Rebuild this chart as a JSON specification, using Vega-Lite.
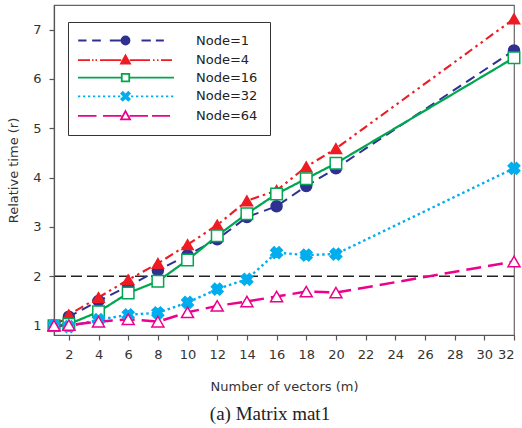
{
  "$schema": "https://vega.github.io/schema/vega-lite/v6.json",
  "width": 460,
  "height": 330,
  "autosize": {"type": "none"},
  "padding": {"left": 54, "top": 5, "right": 8, "bottom": 93},
  "background": "white",
  "config": {
    "font": "DejaVu Sans",
    "view": {"stroke": "#666", "strokeWidth": 1.2},
    "axis": {
      "grid": false,
      "domainColor": "#555",
      "domainWidth": 1.2,
      "tickColor": "#555",
      "tickWidth": 1.2,
      "tickSize": 5,
      "labelFont": "DejaVu Sans",
      "labelFontSize": 13,
      "labelColor": "#333",
      "labelPadding": 8,
      "labelOverlap": false,
      "titleFont": "DejaVu Sans",
      "titleFontSize": 13,
      "titleFontWeight": "normal",
      "titleColor": "#333"
    },
    "axisX": {"labelOverlap": false},
    "axisQuantitative": {"labelOverlap": false},
    "legend": {
      "orient": "none",
      "legendX": 14,
      "legendY": 17,
      "symbolSize": 100,
      "symbolStrokeWidth": 1.8,
      "symbolOpacity": 1,
      "symbolOffset": 39,
      "labelFont": "DejaVu Sans",
      "labelFontSize": 13,
      "labelColor": "#222",
      "labelOffset": 64,
      "rowPadding": 2.6,
      "padding": 12,
      "strokeColor": "#333",
      "fillColor": "white"
    }
  },
  "title": {
    "text": "(a) Matrix mat1",
    "orient": "bottom",
    "font": "Liberation Serif",
    "fontSize": 19,
    "fontWeight": "normal",
    "color": "#222",
    "offset": 12,
    "dx": -14
  },
  "data": {
    "values": [
      {"m": 1, "r": 1.0, "series": "Node=1"},
      {"m": 2, "r": 1.18, "series": "Node=1"},
      {"m": 4, "r": 1.5, "series": "Node=1"},
      {"m": 6, "r": 1.8, "series": "Node=1"},
      {"m": 8, "r": 2.12, "series": "Node=1"},
      {"m": 10, "r": 2.43, "series": "Node=1"},
      {"m": 12, "r": 2.75, "series": "Node=1"},
      {"m": 14, "r": 3.2, "series": "Node=1"},
      {"m": 16, "r": 3.42, "series": "Node=1"},
      {"m": 18, "r": 3.83, "series": "Node=1"},
      {"m": 20, "r": 4.19, "series": "Node=1"},
      {"m": 32, "r": 6.58, "series": "Node=1"},
      {"m": 1, "r": 1.0, "series": "Node=4"},
      {"m": 2, "r": 1.22, "series": "Node=4"},
      {"m": 4, "r": 1.57, "series": "Node=4"},
      {"m": 6, "r": 1.93, "series": "Node=4"},
      {"m": 8, "r": 2.26, "series": "Node=4"},
      {"m": 10, "r": 2.64, "series": "Node=4"},
      {"m": 12, "r": 3.04, "series": "Node=4"},
      {"m": 14, "r": 3.53, "series": "Node=4"},
      {"m": 16, "r": 3.74, "series": "Node=4"},
      {"m": 18, "r": 4.22, "series": "Node=4"},
      {"m": 20, "r": 4.59, "series": "Node=4"},
      {"m": 32, "r": 7.22, "series": "Node=4"},
      {"m": 1, "r": 1.0, "series": "Node=16"},
      {"m": 2, "r": 1.03, "series": "Node=16"},
      {"m": 4, "r": 1.28, "series": "Node=16"},
      {"m": 6, "r": 1.66, "series": "Node=16"},
      {"m": 8, "r": 1.9, "series": "Node=16"},
      {"m": 10, "r": 2.33, "series": "Node=16"},
      {"m": 12, "r": 2.82, "series": "Node=16"},
      {"m": 14, "r": 3.27, "series": "Node=16"},
      {"m": 16, "r": 3.67, "series": "Node=16"},
      {"m": 18, "r": 3.98, "series": "Node=16"},
      {"m": 20, "r": 4.29, "series": "Node=16"},
      {"m": 32, "r": 6.43, "series": "Node=16"},
      {"m": 1, "r": 1.0, "series": "Node=32"},
      {"m": 2, "r": 0.98, "series": "Node=32"},
      {"m": 4, "r": 1.12, "series": "Node=32"},
      {"m": 6, "r": 1.22, "series": "Node=32"},
      {"m": 8, "r": 1.26, "series": "Node=32"},
      {"m": 10, "r": 1.47, "series": "Node=32"},
      {"m": 12, "r": 1.74, "series": "Node=32"},
      {"m": 14, "r": 1.94, "series": "Node=32"},
      {"m": 16, "r": 2.48, "series": "Node=32"},
      {"m": 18, "r": 2.43, "series": "Node=32"},
      {"m": 20, "r": 2.45, "series": "Node=32"},
      {"m": 32, "r": 4.19, "series": "Node=32"},
      {"m": 1, "r": 1.0, "series": "Node=64"},
      {"m": 2, "r": 1.01, "series": "Node=64"},
      {"m": 4, "r": 1.08, "series": "Node=64"},
      {"m": 6, "r": 1.13, "series": "Node=64"},
      {"m": 8, "r": 1.08, "series": "Node=64"},
      {"m": 10, "r": 1.27, "series": "Node=64"},
      {"m": 12, "r": 1.4, "series": "Node=64"},
      {"m": 14, "r": 1.49, "series": "Node=64"},
      {"m": 16, "r": 1.59, "series": "Node=64"},
      {"m": 18, "r": 1.69, "series": "Node=64"},
      {"m": 20, "r": 1.67, "series": "Node=64"},
      {"m": 32, "r": 2.3, "series": "Node=64"}
    ]
  },
  "layer": [
    {
      "data": {"values": [{"ref": 2}]},
      "mark": {"type": "rule", "color": "#222", "strokeWidth": 1.5, "strokeDash": [11, 5]},
      "encoding": {
        "y": {"field": "ref", "type": "quantitative"}
      }
    },
    {
      "mark": {"type": "line", "strokeCap": "butt"},
      "encoding": {
        "x": {
          "field": "m",
          "type": "quantitative",
          "scale": {"domain": [1, 32], "nice": false, "zero": false},
          "axis": {"values": [2, 4, 6, 8, 10, 12, 14, 16, 18, 20, 22, 24, 26, 28, 30, 32], "title": "Number of vectors (m)", "titlePadding": 19, "labelOverlap": false, "labelSeparation": 0}
        },
        "y": {
          "field": "r",
          "type": "quantitative",
          "scale": {"domain": [0.81, 7.5], "nice": false, "zero": false},
          "axis": {"values": [1, 2, 3, 4, 5, 6, 7], "title": "Relative time (r)", "titlePadding": 12, "labelOverlap": false}
        },
        "color": {
          "field": "series",
          "type": "nominal",
          "scale": {"domain": ["Node=1", "Node=4", "Node=16", "Node=32", "Node=64"], "range": ["#2e3192", "#ed1c24", "#00a651", "#00aeef", "#ec008c"]},
          "legend": null
        },
        "strokeDash": {
          "field": "series",
          "type": "nominal",
          "scale": {"domain": ["Node=1", "Node=4", "Node=16", "Node=32", "Node=64"], "range": [[10, 6], [9, 4, 2.5, 4, 2.5, 4], [1, 0], [2.5, 3], [15, 7]]},
          "legend": null
        },
        "strokeWidth": {
          "field": "series",
          "type": "nominal",
          "scale": {"domain": ["Node=1", "Node=4", "Node=16", "Node=32", "Node=64"], "range": [2, 2.5, 1.6, 2.5, 2]},
          "legend": null
        }
      }
    },
    {
      "mark": {"type": "point", "filled": true, "opacity": 1, "strokeWidth": 1.5},
      "encoding": {
        "x": {
          "field": "m",
          "type": "quantitative",
          "axis": {"values": [2, 4, 6, 8, 10, 12, 14, 16, 18, 20, 22, 24, 26, 28, 30, 32], "title": "Number of vectors (m)", "titlePadding": 19, "labelOverlap": false, "labelSeparation": 0}
        },
        "y": {
          "field": "r",
          "type": "quantitative",
          "axis": {"values": [1, 2, 3, 4, 5, 6, 7], "title": "Relative time (r)", "titlePadding": 12, "labelOverlap": false}
        },
        "shape": {
          "field": "series",
          "type": "nominal",
          "scale": {"domain": ["Node=1", "Node=4", "Node=16", "Node=32", "Node=64"], "range": ["circle", "triangle-up", "square", "cross", "triangle-up"]},
          "legend": null
        },
        "size": {
          "field": "series",
          "type": "nominal",
          "scale": {"domain": ["Node=1", "Node=4", "Node=16", "Node=32", "Node=64"], "range": [120, 144, 64, 100, 100]},
          "legend": null
        },
        "fill": {
          "field": "series",
          "type": "nominal",
          "scale": {"domain": ["Node=1", "Node=4", "Node=16", "Node=32", "Node=64"], "range": ["#2e3192", "#ed1c24", "#ffffff", "#00aeef", "#ffffff"]},
          "legend": null
        },
        "stroke": {
          "field": "series",
          "type": "nominal",
          "scale": {"domain": ["Node=1", "Node=4", "Node=16", "Node=32", "Node=64"], "range": ["#2e3192", "#ed1c24", "#00a651", "#00aeef", "#ec008c"]},
          "legend": null
        },
        "angle": {"condition": {"test": "datum.series === 'Node=32'", "value": 45}, "value": 0}
      }
    },
    {
      "transform": [{"filter": "false"}],
      "mark": {"type": "point", "filled": true, "opacity": 1, "strokeWidth": 1.8},
      "encoding": {
        "shape": {
          "field": "series",
          "type": "nominal",
          "scale": {
            "domain": ["Node=1", "Node=4", "Node=16", "Node=32", "Node=64"],
            "range": [
              "M-9.46,0H-7.8M-6.67,0H-4.93M-3.13,0H-0.8M3.2,0H5.07M6.07,0H7.67M0.8,0A0.8,0.8,0,1,1,-0.8,0A0.8,0.8,0,1,1,0.8,0Z",
              "M-9.5,0H-7.1M-6.7,0H-6.4M-6,0H-5.7M-5.1,0H-0.85M0.85,0H4.9M5.5,0H5.8M6.3,0H6.6M7.1,0H9.3M0,-0.95L0.9,0.7L-0.9,0.7Z",
              "M-9.5,0H-0.75M0.75,0H9.7M-0.75,-0.75H0.75V0.75H-0.75Z",
              "M-9.5,0H-9.05M-8.5,0H-8.05M-7.5,0H-7.05M-6.5,0H-6.05M-5.5,0H-5.05M-4.5,0H-4.05M-3.5,0H-3.05M-2.5,0H-2.05M-1.5,0H-1.05M1.1,0H1.55M2.1,0H2.55M3.1,0H3.55M4.1,0H4.55M5.1,0H5.55M6.1,0H6.55M7.1,0H7.55M8.1,0H8.55M9.1,0H9.55M-0.85,-0.55L-0.55,-0.85L0,-0.3L0.55,-0.85L0.85,-0.55L0.3,0L0.85,0.55L0.55,0.85L0,0.3L-0.55,0.85L-0.85,0.55L-0.3,0Z",
              "M-9.5,0H-5.8M-4.5,0H-0.8M0.8,0H4.5M5.3,0H8.9M0,-0.95L0.9,0.7L-0.9,0.7Z"
            ]
          },
          "legend": {"title": null}
        },
        "fill": {
          "field": "series",
          "type": "nominal",
          "scale": {"domain": ["Node=1", "Node=4", "Node=16", "Node=32", "Node=64"], "range": ["#2e3192", "#ed1c24", "#ffffff", "#00aeef", "#ffffff"]},
          "legend": {"title": null}
        },
        "stroke": {
          "field": "series",
          "type": "nominal",
          "scale": {"domain": ["Node=1", "Node=4", "Node=16", "Node=32", "Node=64"], "range": ["#2e3192", "#ed1c24", "#00a651", "#00aeef", "#ec008c"]},
          "legend": {"title": null}
        }
      }
    }
  ],
  "resolve": {
    "scale": {"shape": "independent", "fill": "independent", "stroke": "independent"},
    "legend": {"shape": "independent", "fill": "independent", "stroke": "independent"}
  }
}
